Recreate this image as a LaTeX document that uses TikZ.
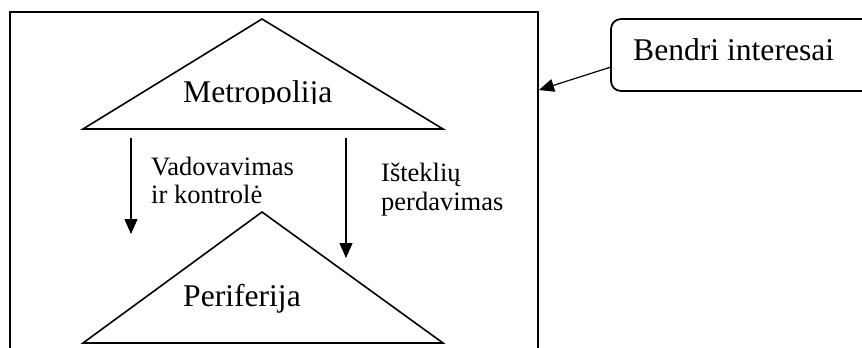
\documentclass[tikz,border=0pt]{standalone}
\usepackage{fontspec}
\setmainfont{Liberation Serif}
\usetikzlibrary{arrows.meta}

\begin{document}
\begin{tikzpicture}
    [
    x=1pt,y=-1pt,
    frame/.style={line width=1.8pt},
    tri/.style={line width=1.6pt,line join=miter},
    flow/.style={line width=1.2pt,-{Triangle[length=15pt,width=13pt]}},
    big/.style={inner sep=0pt,anchor=base west,font=\fontsize{31.6}{36}\selectfont},
    small/.style={inner sep=0pt,anchor=base west,font=\fontsize{26.5}{28}\selectfont},
    ]
    \useasboundingbox (0,0) rectangle (862,348);
    \draw [frame] (10,348) |- (538,12) -- (538,348);

    \coordinate (mtop) at (262,19);
    \coordinate (mleft) at (83,129);
    \coordinate (mright) at (443,129);
    \coordinate (ptop) at (262,212);
    \coordinate (pleft) at (83,343);
    \coordinate (pright) at (443,343);
    \draw [tri] (mtop) -- (mright) -- (mleft) -- cycle;
    \draw [tri] (ptop) -- (pright) -- (pleft) -- cycle;

    \begin{scope}
      \clip (150,40) rectangle (400,103.5);
      \node (metro) at (183,102) [big] {Metropolija};
    \end{scope}
    \node (peri) at (183,306) [big] {Periferija};

    \coordinate (v1) at (131,138);
    \coordinate (v2) at (131,234);
    \coordinate (i1) at (346,138);
    \coordinate (i2) at (346,258);
    \draw [flow] (v1) to (v2);
    \draw [flow] (i1) to (i2);

    \node (vad) at (151,175) [small] {Vadovavimas};
    \node (kontr) at (151,203) [small] {ir kontrolė};
    \node (istekl) at (381,181) [small] {Išteklių};
    \node (perd) at (381,210) [small] {perdavimas};

    \draw [frame,rounded corners=10pt] (862,19) -| (611,91) -- (862,91);
    \node (bendri) at (633,60) [big] {Bendri interesai};
    \coordinate (c1) at (611,67);
    \coordinate (c2) at (539,90);
    \draw [flow] (c1) to (c2);
  \end{tikzpicture}
\end{document}
